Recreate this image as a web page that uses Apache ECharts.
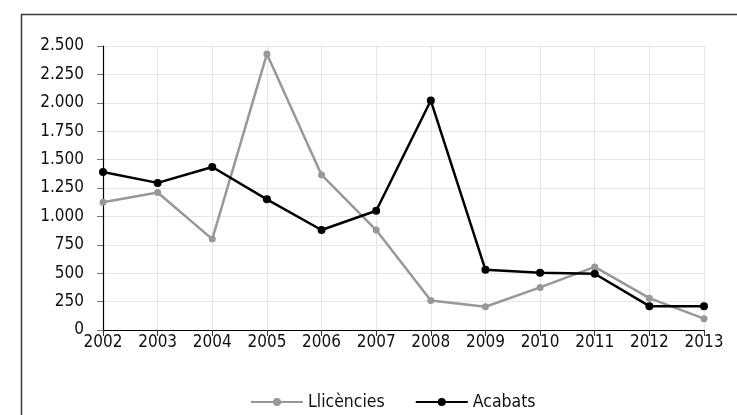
<!DOCTYPE html>
<html>
<head>
<meta charset="utf-8">
<script src="https://cdn.jsdelivr.net/npm/echarts@6/dist/echarts.min.js"></script>
<style>
  html, body { margin: 0; padding: 0; background: #fff; }
  #chart { width: 737px; height: 415px; }
</style>
</head>
<body>
<div id="chart"></div>
<script>
// dades
var years = ['2002', '2003', '2004', '2005', '2006', '2007', '2008', '2009', '2010', '2011', '2012', '2013']
var llicencies = [1125, 1210, 800, 2430, 1365, 880, 260, 205, 375, 555, 280, 100]
var acabats = [1390, 1295, 1435, 1150, 880, 1050, 2020, 530, 505, 495, 210, 210]
var yTicks = [0, 250, 500, 750, 1000, 1250, 1500, 1750, 2000, 2250, 2500]

var font = '"DejaVu Sans Condensed", "Liberation Sans", sans-serif'

function fmt(v) {
  // separador de milers amb punt
  return String(v).replace(/\B(?=(\d{3})+(?!\d))/g, '.')
}

var chart = echarts.init(document.getElementById('chart'))
var options = {
  animation: false,
  graphic: [{
    type: 'rect',
    left: 19,
    top: 12,
    shape: { width: 760, height: 440 },
    style: { fill: 'none', stroke: '#3a3a3a', lineWidth: 1.5 },
    silent: true
  }],
  grid: {
    left: 103,
    right: 33,
    top: 46,
    bottom: 85
  },
  legend: {
    left: 250,
    top: 393,
    padding: 0,
    itemWidth: 52,
    itemHeight: 10,
    itemGap: 30,
    textStyle: { fontFamily: font, fontSize: 17.5, color: '#111' },
    data: ['Llicències', 'Acabats']
  },
  xAxis: {
    type: 'category',
    boundaryGap: false,
    data: years,
    axisLine: { lineStyle: { color: '#000', width: 1.2 } },
    axisTick: { show: true, length: 6, lineStyle: { color: '#333' } },
    axisLabel: { fontFamily: font, fontSize: 17, color: '#111', margin: 4 },
    splitLine: { show: true, lineStyle: { color: '#e6e6e6', width: 1 } }
  },
  yAxis: {
    type: 'value',
    min: yTicks[0],
    max: yTicks[yTicks.length - 1],
    interval: 250,
    axisLine: { show: true, lineStyle: { color: '#000', width: 1.2 } },
    axisTick: { show: true, length: 6, lineStyle: { color: '#777' } },
    axisLabel: { fontFamily: font, fontSize: 17, color: '#111', margin: 19, formatter: fmt },
    splitLine: { show: true, lineStyle: { color: '#e6e6e6', width: 1 } }
  },
  series: [{
    name: 'Llicències',
    type: 'line',
    data: llicencies,
    symbol: 'circle',
    symbolSize: 7,
    color: '#989898',
    lineStyle: { width: 2.5, color: '#989898' },
    itemStyle: { color: '#989898' }
  }, {
    name: 'Acabats',
    type: 'line',
    data: acabats,
    symbol: 'circle',
    symbolSize: 8,
    color: '#000',
    lineStyle: { width: 2.5, color: '#000' },
    itemStyle: { color: '#000' }
  }]
}
chart.setOption(options)
window.addEventListener('resize', function () {
  chart.resize()
}, false)
</script>
</body>
</html>
